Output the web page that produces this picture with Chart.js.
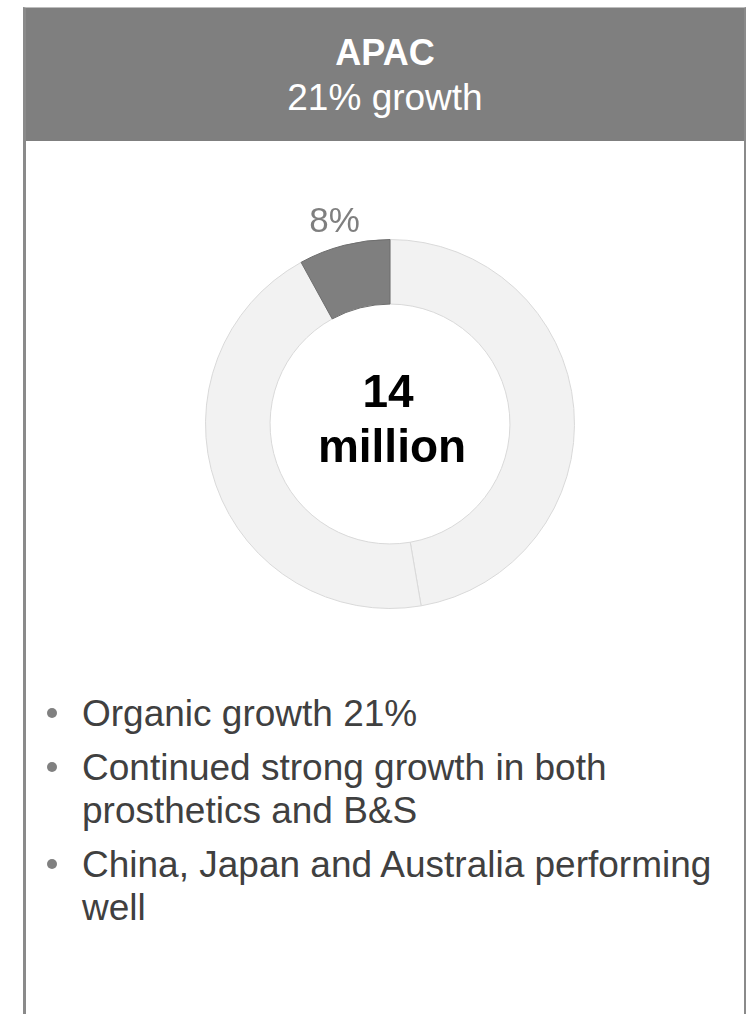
<!DOCTYPE html>
<html>
<head>
<meta charset="utf-8">
<script src="https://cdn.jsdelivr.net/npm/chart.js@4"></script>
<style>
  html, body { margin: 0; padding: 0; background: #fff; }
  body { width: 746px; height: 1014px; position: relative; overflow: hidden; font-family: "Liberation Sans", Arial, sans-serif; }
  #panel {
    position: absolute; left: 23px; top: 7px; width: 718px; height: 1010px;
    border-left: 3px solid #8a8a8a; border-right: 2px solid #8a8a8a; border-top: 1px solid #bdbdbd;
  }
  #head {
    position: absolute; left: 0; top: 0; right: 0; height: 133px;
    background: #7f7f7f; color: #fff; text-align: center;
  }
  #head .title { position: absolute; left: 0; right: 0; top: 24.5px; font-size: 36px; line-height: 40px; font-weight: bold; }
  #head .sub { position: absolute; left: 0; right: 0; top: 67.7px; font-size: 37px; line-height: 43px; }
  #donut { position: absolute; left: 165px; top: 199px; width: 450px; height: 450px; }
  ul.notes {
    position: absolute; left: 82px; top: 692px; width: 655px;
    margin: 0; padding: 0; list-style: none;
    font-size: 37px; line-height: 43px; color: #404040;
  }
  ul.notes li { position: relative; margin-top: 11px; }
  ul.notes li:first-child { margin-top: 0; }
  ul.notes li::before {
    content: ""; position: absolute; left: -35px; top: 16px;
    width: 10px; height: 10px; border-radius: 50%; background: #808080;
  }
</style>
</head>
<body>
<div id="panel">
  <div id="head">
    <div class="title" id="regionName"></div>
    <div class="sub" id="regionGrowth"></div>
  </div>
</div>
<div id="donut"><canvas id="chartRegion"></canvas></div>
<ul class="notes" id="notes"></ul>

<script>
// region header
const regionName = "APAC";
const regionGrowth = "21% growth";

// share of total sales, clockwise from 12 o'clock; the region is the last slice
const sliceLabels = ["Other", "Other ", "APAC"];
const sliceValues = [47.3, 44.7, 8];
const sliceColors = ["#f2f2f2", "#f2f2f2", "#7f7f7f"];
const sliceBorders = ["#d9d9d9", "#d9d9d9", "#6e6e6e"];
const labelledSlice = 2;

// text in the middle of the ring
const centerLines = ["14", "million"];

const notes = [
    "Organic growth 21%",
    "Continued strong growth in both prosthetics and B&S",
    "China, Japan and Australia performing well"
];

const FONT = '"Liberation Sans", Arial, sans-serif';

document.getElementById('regionName').textContent = regionName;
document.getElementById('regionGrowth').textContent = regionGrowth;
const ul = document.getElementById('notes');
notes.forEach(t => {
    const li = document.createElement('li');
    li.textContent = t;
    ul.appendChild(li);
});

// percentage next to the highlighted slice, plus the total in the hole
const donutText = {
    id: 'donutText',
    afterDatasetsDraw(chart) {
        const ctx = chart.ctx;
        const arcs = chart.getDatasetMeta(0).data;
        const arc = arcs[labelledSlice];
        const p = arc.getProps(['x', 'y', 'startAngle', 'endAngle', 'outerRadius', 'innerRadius'], true);
        const total = sliceValues.reduce((a, b) => a + b, 0);
        const pct = Math.round(sliceValues[labelledSlice] / total * 100) + '%';
        const mid = (p.startAngle + p.endAngle) / 2;
        const r = p.outerRadius + 30;

        ctx.save();
        ctx.textAlign = 'center';
        ctx.textBaseline = 'alphabetic';
        ctx.fillStyle = '#7f7f7f';
        ctx.font = '35px ' + FONT;
        ctx.fillText(pct, p.x + r * Math.cos(mid) - 2, p.y + r * Math.sin(mid) + 16);

        ctx.fillStyle = '#000';
        ctx.font = 'bold 46px ' + FONT;
        ctx.fillText(centerLines[0], p.x - 2, p.y - 17);
        ctx.fillText(centerLines[1], p.x + 2, p.y + 38);
        ctx.restore();
    }
};

new Chart(document.getElementById('chartRegion').getContext('2d'), {
    type: 'doughnut',
    data: {
        labels: sliceLabels,
        datasets: [{
            data: sliceValues,
            backgroundColor: sliceColors,
            borderColor: sliceBorders,
            borderWidth: 1
        }]
    },
    options: {
        responsive: true,
        maintainAspectRatio: false,
        animation: false,
        cutout: '65%',
        layout: { padding: 40 },
        plugins: {
            legend: { display: false },
            tooltip: { enabled: false }
        }
    },
    plugins: [donutText]
});
</script>
</body>
</html>
